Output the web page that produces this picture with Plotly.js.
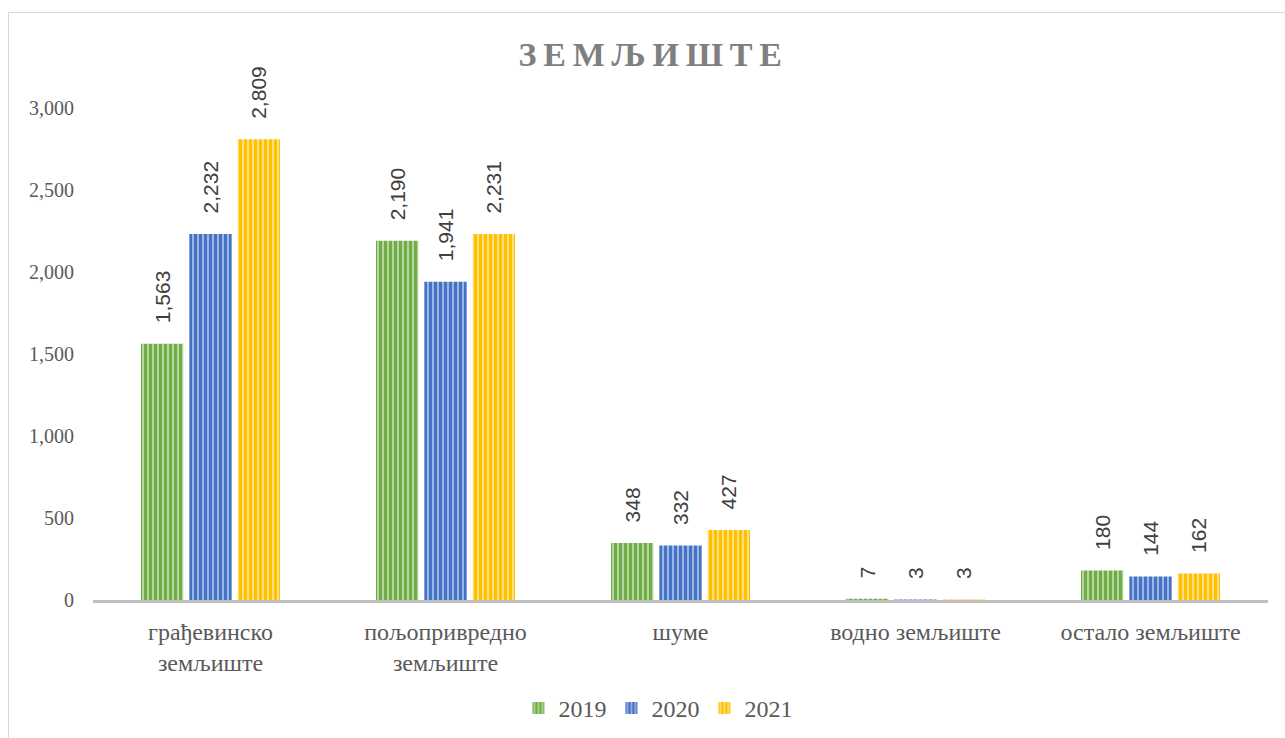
<!DOCTYPE html>
<html><head><meta charset="utf-8">
<script src="https://cdn.plot.ly/plotly-3.0.1.min.js"></script>
<style>
html,body{margin:0;padding:0;background:#fff;}
#wrap{position:relative;width:1285px;height:738px;}
#chart{width:1285px;height:738px;}
#frame{position:absolute;left:8px;top:12px;width:1290px;height:740px;border:1px solid #D9D9D9;pointer-events:none;}
</style></head>
<body>
<div id="wrap"><div id="chart"></div><div id="frame"></div></div>
<script>
const categories = ["грађевинско<br>земљиште", "пољопривредно<br>земљиште", "шуме", "водно земљиште", "остало земљиште"];
const years = ["2019", "2020", "2021"];
const values2019 = [1563, 2190, 348, 7, 180];
const values2020 = [2232, 1941, 332, 3, 144];
const values2021 = [2809, 2231, 427, 3, 162];
const yTicks = [0, 500, 1000, 1500, 2000, 2500, 3000];

const fg = ["#70AD47", "#4472C4", "#FFC000"];
const bg = ["#B5D69C", "#9DB5E3", "#FFDF80"];
const series = [values2019, values2020, values2021];

const traces = series.map((vals, i) => ({
  type: "bar",
  name: years[i],
  x: categories,
  y: vals,
  text: vals.map(v => "   " + v.toLocaleString("en-US")),
  textposition: "outside",
  textangle: -90,
  constraintext: "none",
  cliponaxis: false,
  textfont: {family: "Liberation Sans, Arial, sans-serif", size: 21, color: "#404040"},
  marker: {
    color: fg[i],
    line: {width: 0},
    pattern: {shape: "|", fillmode: "replace", fgcolor: fg[i], bgcolor: bg[i], size: 5, solidity: 0.6}
  },
  hoverinfo: "none"
}));

const layout = {
  width: 1285, height: 738,
  margin: {l: 93, r: 17, t: 108, b: 138},
  paper_bgcolor: "#fff", plot_bgcolor: "#fff",
  title: {
    text: "<b>З\u2009Е\u2009М\u2009Љ\u2009И\u2009Ш\u2009Т\u2009Е</b>",
    x: 0.506, xref: "container", xanchor: "center", y: 55, yref: "container", yanchor: "middle",
    font: {family: "Liberation Serif, Times New Roman, serif", size: 34, color: "#7F7F7F"}
  },
  barmode: "group",
  bargap: 0.383,
  bargroupgap: 0.124,
  showlegend: true,
  legend: {
    orientation: "h", xref: "container", x: 0.512, xanchor: "center",
    yref: "container", y: 0.04, yanchor: "middle",
    font: {family: "Liberation Serif, Times New Roman, serif", size: 24, color: "#595959"},
    itemwidth: 30
  },
  xaxis: {
    automargin: false,
    showline: true, linecolor: "#BFBFBF", linewidth: 3,
    ticks: "", showgrid: false, zeroline: false,
    ticklabelstandoff: 8,
    tickfont: {family: "Liberation Serif, Times New Roman, serif", size: 24, color: "#595959"}
  },
  yaxis: {
    automargin: false,
    range: [0, 3000], tickvals: yTicks, tickformat: ",d",
    showgrid: false, zeroline: false, showline: false, ticks: "",
    ticklabelstandoff: 18,
    tickfont: {family: "Liberation Serif, Times New Roman, serif", size: 20, color: "#595959"}
  }
};

Plotly.newPlot("chart", traces, layout, {displayModeBar: false, staticPlot: true});
</script>
</body></html>
